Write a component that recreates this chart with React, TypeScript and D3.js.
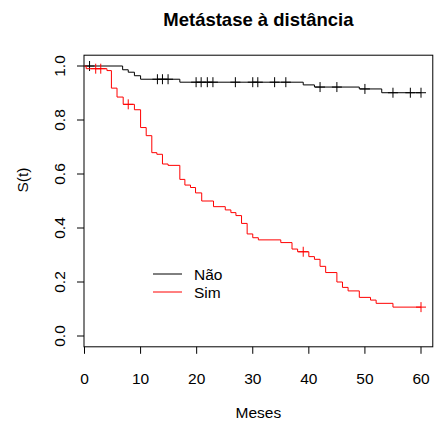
import React from "react";
import * as d3 from "d3";

const title = "Metástase à distância";
const xLabel = "Meses";
const yLabel = "S(t)";
const xTicks = [0, 10, 20, 30, 40, 50, 60];
const yTicks = [0, 0.2, 0.4, 0.6, 0.8, 1.0];
const groupNames = ["Não", "Sim"];
const groupColors = ["#000000", "#FF0000"];

const naoTimes = [0, 6.8, 7.8, 8.9, 10, 17, 39, 41, 49, 53];
const naoSurv = [1.0, 0.986, 0.977, 0.964, 0.951, 0.94, 0.93, 0.922, 0.915, 0.901];
const naoCensor = [0.9, 13, 13.9, 14.9, 19.9, 20.8, 21.9, 22.9, 26.9, 30, 30.9, 33.9, 35.9, 42, 45, 50, 55, 58.1, 60];
const naoEnd = 60;

const simTimes = [0, 0.3, 4, 4.8, 5.8, 6.9, 8.9, 10, 11, 12, 12.9, 13.9, 14.9, 17, 17.9, 18.9, 19.8, 20.9, 23, 25.1, 26.1, 27, 28, 29, 30, 31, 35, 37, 38, 40, 41, 42, 43, 45, 46, 47, 49, 51, 52, 55];
const simSurv = [1.0, 0.99, 0.983, 0.918, 0.885, 0.858, 0.838, 0.772, 0.742, 0.679, 0.673, 0.637, 0.632, 0.58, 0.559, 0.55, 0.53, 0.5, 0.479, 0.467, 0.457, 0.446, 0.417, 0.378, 0.364, 0.356, 0.346, 0.322, 0.312, 0.294, 0.284, 0.258, 0.235, 0.2, 0.18, 0.167, 0.143, 0.133, 0.121, 0.107];
const simCensor = [2, 2.9, 7.8, 39, 60];
const simEnd = 60;

const W = 435;
const H = 426;
const FONT = "'Liberation Sans', Arial, Helvetica, sans-serif";

export default function App() {
  const x = d3.scaleLinear().domain([0, 60]).range([84.5, 421]);
  const y = d3.scaleLinear().domain([0, 1]).range([336, 66]);
  const left = x(0) - 0.5;
  const right = x(62.1);
  const top = y(1.04);
  const bottom = y(-0.04);

  const groups = [
    { times: naoTimes, surv: naoSurv, censor: naoCensor, end: naoEnd },
    { times: simTimes, surv: simSurv, censor: simCensor, end: simEnd },
  ];

  const line = d3
    .line<[number, number]>()
    .x((d) => x(d[0]))
    .y((d) => y(d[1]))
    .curve(d3.curveStepAfter);

  const survAt = (g: any, t: number) => {
    let s = g.surv[0];
    for (let i = 0; i < g.times.length; i++) if (g.times[i] <= t) s = g.surv[i];
    return s;
  };

  const fs = 15.5;

  return (
    <svg width={W} height={H} style={{ position: "absolute", left: 0, top: 0 }} fontFamily={FONT}>
      <rect x={0} y={0} width={W} height={H} fill="#fff" />
      <text x={(left + right) / 2} y={26} textAnchor="middle" fontWeight="bold" fontSize={18.5}>
        {title}
      </text>
      {groups.map((g, gi) => {
        const pts: [number, number][] = g.times.map((t, i) => [t, g.surv[i]] as [number, number]);
        pts.push([g.end, g.surv[g.surv.length - 1]]);
        return (
          <g key={gi} stroke={groupColors[gi]} fill="none" strokeWidth={1}>
            <path d={line(pts) || ""} />
            {g.censor.map((t, i) => {
              const cx = x(t);
              const cy = y(survAt(g, t));
              return (
                <g key={i}>
                  <line x1={cx - 5} x2={cx + 5} y1={cy} y2={cy} />
                  <line x1={cx} x2={cx} y1={cy - 5} y2={cy + 5} />
                </g>
              );
            })}
          </g>
        );
      })}
      <rect x={left} y={top} width={right - left} height={bottom - top} fill="none" stroke="#000" strokeWidth={1} />
      {xTicks.map((t) => (
        <g key={t}>
          <line x1={x(t)} x2={x(t)} y1={bottom} y2={bottom + 7} stroke="#000" />
          <text x={x(t)} y={384} textAnchor="middle" fontSize={fs}>
            {t}
          </text>
        </g>
      ))}
      {yTicks.map((t) => (
        <g key={t}>
          <line x1={left - 7} x2={left} y1={y(t)} y2={y(t)} stroke="#000" />
          <text
            transform={`translate(65,${y(t)}) rotate(-90)`}
            textAnchor="middle"
            fontSize={fs}
          >
            {t.toFixed(1)}
          </text>
        </g>
      ))}
      <text x={(left + right) / 2} y={418} textAnchor="middle" fontSize={fs}>
        {xLabel}
      </text>
      <text transform={`translate(28,180) rotate(-90)`} textAnchor="middle" fontSize={fs}>
        {yLabel}
      </text>
      {groupNames.map((n, i) => (
        <g key={n}>
          <line x1={153} x2={182} y1={274 + i * 18} y2={274 + i * 18} stroke={groupColors[i]} />
          <text x={194} y={279.5 + i * 18} fontSize={fs}>
            {n}
          </text>
        </g>
      ))}
    </svg>
  );
}
